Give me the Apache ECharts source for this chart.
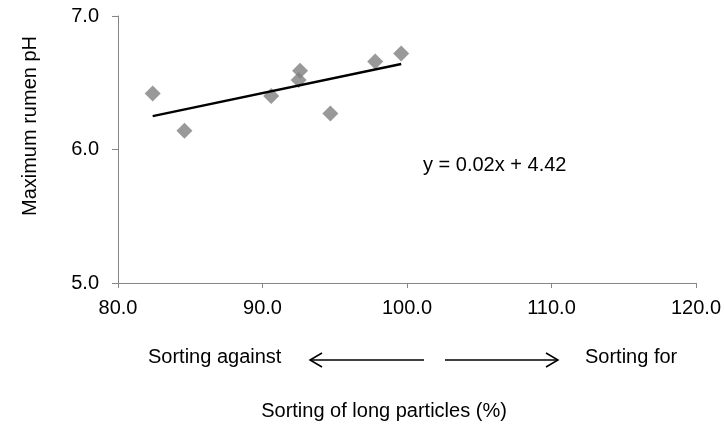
<!DOCTYPE html>
<html>
<head>
<meta charset="utf-8">
<script src="https://cdn.jsdelivr.net/npm/echarts@6/dist/echarts.min.js"></script>
<style>html,body{margin:0;padding:0;background:#fff;}#c{width:724px;height:425px;}</style>
</head>
<body>
<div id="c"></div>
<script>
const xValues = [82.4, 84.6, 90.6, 92.6, 92.5, 94.7, 97.8, 99.6];
const yValues = [6.42, 6.14, 6.40, 6.59, 6.52, 6.27, 6.66, 6.72];
const trendX = [82.4, 99.6];
const trendY = [6.25, 6.64];
const xTickValues = [80, 90, 100, 110, 120];
const yTickValues = [5, 6, 7];
const yTitle = 'Maximum rumen pH';
const xTitle = 'Sorting of long particles (%)';
const leftNote = 'Sorting against';
const rightNote = 'Sorting for';
const equation = 'y = 0.02x + 4.42';

const FONT = 'Liberation Sans, Arial, sans-serif';
const chart = echarts.init(document.getElementById('c'));
const points = xValues.map((x, i) => [x, yValues[i]]);
const trend = trendX.map((x, i) => [x, trendY[i]]);
const axisGray = '#868686';

chart.setOption({
  animation: false,
  grid: { left: 118, right: 27, top: 16, bottom: 142 },
  xAxis: {
    type: 'value', min: xTickValues[0], max: xTickValues[xTickValues.length - 1], interval: 10,
    splitLine: { show: false },
    axisLine: { show: true, lineStyle: { color: axisGray, width: 1 } },
    axisTick: { show: true, length: 5, lineStyle: { color: axisGray } },
    axisLabel: { margin: 15, color: '#000', fontFamily: FONT, fontSize: 20, formatter: v => v.toFixed(1) }
  },
  yAxis: {
    type: 'value', min: yTickValues[0], max: yTickValues[yTickValues.length - 1], interval: 1,
    splitLine: { show: false },
    axisLine: { show: true, lineStyle: { color: axisGray, width: 1 } },
    axisTick: { show: true, length: 6, lineStyle: { color: axisGray } },
    axisLabel: { margin: 19, color: '#000', fontFamily: FONT, fontSize: 20, formatter: v => v.toFixed(1) }
  },
  series: [
    {
      type: 'line', data: trend, symbol: 'none', z: 3,
      lineStyle: { color: '#000', width: 2.5 }
    },
    {
      type: 'scatter', data: points, symbol: 'diamond', symbolSize: 16, z: 2,
      itemStyle: { color: '#808080' }
    }
  ],
  graphic: [
    { type: 'text', x: 30, y: 126, rotation: Math.PI / 2,
      style: { text: yTitle, font: '20px ' + FONT, fill: '#000', align: 'center', verticalAlign: 'middle' } },
    { type: 'text', x: 423, y: 165,
      style: { text: equation, font: '20px ' + FONT, fill: '#000', align: 'left', verticalAlign: 'middle' } },
    { type: 'text', x: 148, y: 357,
      style: { text: leftNote, font: '20px ' + FONT, fill: '#000', align: 'left', verticalAlign: 'middle' } },
    { type: 'text', x: 585, y: 357,
      style: { text: rightNote, font: '20px ' + FONT, fill: '#000', align: 'left', verticalAlign: 'middle' } },
    { type: 'text', x: 384, y: 411,
      style: { text: xTitle, font: '20px ' + FONT, fill: '#000', align: 'center', verticalAlign: 'middle' } },
    { type: 'line', shape: { x1: 310, y1: 360, x2: 424, y2: 360 }, style: { stroke: '#000', lineWidth: 1.5 } },
    { type: 'polyline', shape: { points: [[322, 353], [310, 360], [322, 367]] }, style: { stroke: '#000', lineWidth: 1.5, fill: null } },
    { type: 'line', shape: { x1: 445, y1: 360, x2: 558, y2: 360 }, style: { stroke: '#000', lineWidth: 1.5 } },
    { type: 'polyline', shape: { points: [[546, 353], [558, 360], [546, 367]] }, style: { stroke: '#000', lineWidth: 1.5, fill: null } }
  ]
});
</script>
</body>
</html>
